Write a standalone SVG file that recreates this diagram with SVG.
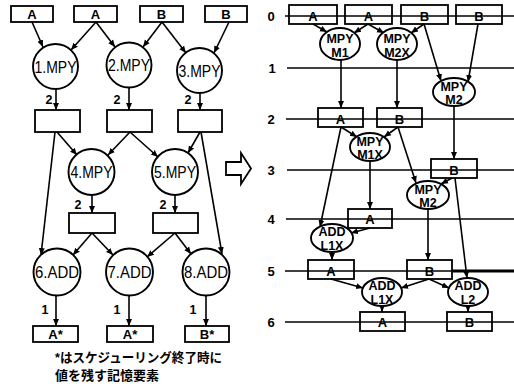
<svg xmlns="http://www.w3.org/2000/svg" width="514" height="384" viewBox="0 0 514 384">
<defs>
<marker id="ah" markerWidth="8" markerHeight="8" refX="7" refY="4" orient="auto" markerUnits="userSpaceOnUse"><path d="M0,1 L7,4 L0,7 Z" fill="#000"/></marker>
<style>
.box{fill:none;stroke:#000;stroke-width:1.8}
.nd{fill:#fff;stroke:#000;stroke-width:1.9}
.c{fill:none;stroke:#000;stroke-width:1.6;marker-end:url(#ah)}
.ln{stroke:#000;stroke-width:1.6}
.t{font-family:"Liberation Sans",Arial,sans-serif;fill:#000;text-anchor:middle}
.bt{font-size:13px;font-weight:bold}
.ct{font-size:16px}
.et{font-size:12.5px;font-weight:bold}
.lb{font-size:12.5px;font-weight:bold}
.jp{font-family:"Liberation Sans","Noto Sans CJK JP",sans-serif;font-size:13px;font-weight:bold;fill:#000}
</style>
</defs>
<rect width="514" height="384" fill="#fff"/>

<!-- LEFT GRAPH connectors -->
<g id="left-connectors">
<line class="c" x1="32" y1="22" x2="43" y2="47"/>
<line class="c" x1="96" y1="22" x2="71" y2="50"/>
<line class="c" x1="96" y1="22" x2="115" y2="47"/>
<line class="c" x1="162" y1="22" x2="143" y2="47"/>
<line class="c" x1="162" y1="22" x2="186" y2="53"/>
<line class="c" x1="229" y1="22" x2="214" y2="53"/>
<line class="c" x1="56" y1="89" x2="56" y2="110"/>
<line class="c" x1="129" y1="88" x2="129" y2="110"/>
<line class="c" x1="200" y1="93" x2="200" y2="110"/>
<line class="c" x1="57" y1="132" x2="77" y2="155"/>
<line class="c" x1="130" y1="132" x2="108" y2="155"/>
<line class="c" x1="130" y1="132" x2="158" y2="157"/>
<line class="c" x1="200" y1="132" x2="188" y2="153"/>
<line class="c" x1="55" y1="132" x2="41" y2="255"/>
<line class="c" x1="201" y1="132" x2="222" y2="254"/>
<line class="c" x1="92" y1="195" x2="92" y2="213"/>
<line class="c" x1="175" y1="195" x2="175" y2="213"/>
<line class="c" x1="92" y1="233" x2="73" y2="255"/>
<line class="c" x1="92" y1="233" x2="113" y2="255"/>
<line class="c" x1="175" y1="233" x2="147" y2="257"/>
<line class="c" x1="175" y1="233" x2="191" y2="254"/>
<line class="c" x1="56" y1="296" x2="56" y2="326"/>
<line class="c" x1="129" y1="296" x2="129" y2="326"/>
<line class="c" x1="206" y1="296" x2="206" y2="326"/>
</g>

<!-- LEFT GRAPH nodes -->
<g id="L-A1"><rect class="box" x="11" y="6" width="42" height="16"/><text class="t bt" x="32" y="18.5">A</text></g>
<g id="L-A2"><rect class="box" x="74" y="6" width="43" height="16"/><text class="t bt" x="95.5" y="18.5">A</text></g>
<g id="L-B3"><rect class="box" x="140" y="6" width="43" height="16"/><text class="t bt" x="161.5" y="18.5">B</text></g>
<g id="L-B4"><rect class="box" x="205" y="6" width="42" height="16"/><text class="t bt" x="226" y="18.5">B</text></g>

<g id="L-MPY1"><circle class="nd" cx="55.5" cy="66.5" r="22.5"/><text class="t ct" x="55.5" y="72.5" textLength="42" lengthAdjust="spacingAndGlyphs">1.MPY</text></g>
<g id="L-MPY2"><circle class="nd" cx="129" cy="65" r="22.5"/><text class="t ct" x="129" y="71" textLength="42" lengthAdjust="spacingAndGlyphs">2.MPY</text></g>
<g id="L-MPY3"><circle class="nd" cx="199.5" cy="70.5" r="22.5"/><text class="t ct" x="199.5" y="76.5" textLength="42" lengthAdjust="spacingAndGlyphs">3.MPY</text></g>

<g id="L-S1"><rect class="box" x="35" y="110" width="45" height="22"/></g>
<g id="L-S2"><rect class="box" x="107" y="110" width="45" height="22"/></g>
<g id="L-S3"><rect class="box" x="178" y="110" width="44" height="22"/></g>

<g id="L-MPY4"><circle class="nd" cx="91.5" cy="172" r="23"/><text class="t ct" x="91.5" y="178" textLength="42" lengthAdjust="spacingAndGlyphs">4.MPY</text></g>
<g id="L-MPY5"><circle class="nd" cx="175" cy="172" r="23"/><text class="t ct" x="175" y="178" textLength="42" lengthAdjust="spacingAndGlyphs">5.MPY</text></g>

<g id="L-S4"><rect class="box" x="69" y="213" width="46" height="20"/></g>
<g id="L-S5"><rect class="box" x="153" y="213" width="45" height="20"/></g>

<g id="L-ADD6"><circle class="nd" cx="57" cy="272" r="23.5"/><text class="t ct" x="57" y="278" textLength="44" lengthAdjust="spacingAndGlyphs">6.ADD</text></g>
<g id="L-ADD7"><circle class="nd" cx="129.5" cy="272" r="23.5"/><text class="t ct" x="129.5" y="278" textLength="44" lengthAdjust="spacingAndGlyphs">7.ADD</text></g>
<g id="L-ADD8"><circle class="nd" cx="206" cy="272" r="23.5"/><text class="t ct" x="206" y="278" textLength="44" lengthAdjust="spacingAndGlyphs">8.ADD</text></g>

<g id="L-O1"><rect class="box" x="33" y="326" width="45" height="16"/><text class="t bt" x="55.5" y="338.5">A*</text></g>
<g id="L-O2"><rect class="box" x="107" y="326" width="46" height="16"/><text class="t bt" x="130" y="338.5">A*</text></g>
<g id="L-O3"><rect class="box" x="185" y="326" width="44" height="16"/><text class="t bt" x="207" y="338.5">B*</text></g>

<g id="L-labels">
<text class="t lb" x="49" y="104">2</text>
<text class="t lb" x="117" y="104">2</text>
<text class="t lb" x="188" y="104">2</text>
<text class="t lb" x="78" y="209">2</text>
<text class="t lb" x="163" y="209">2</text>
<text class="t lb" x="45" y="314">1</text>
<text class="t lb" x="117" y="314">1</text>
<text class="t lb" x="193" y="314">1</text>
</g>

<g id="note">
<text class="jp" x="55" y="362" textLength="167" lengthAdjust="spacingAndGlyphs">*はスケジューリング終了時に</text>
<text class="jp" x="55" y="380">値を残す記憶要素</text>
</g>

<!-- transform arrow -->
<g id="big-arrow"><path d="M226,162 L241,162 L241,153 L251,168.5 L241,184 L241,175 L226,175 Z" fill="#fff" stroke="#000" stroke-width="1.8"/></g>

<!-- RIGHT: time lines -->
<g id="timelines">
<line class="ln" x1="285" y1="16" x2="514" y2="16"/>
<line class="ln" x1="287" y1="68" x2="514" y2="68"/>
<line class="ln" x1="286" y1="119" x2="514" y2="119"/>
<line class="ln" x1="287" y1="170" x2="514" y2="170"/>
<line class="ln" x1="286" y1="219" x2="514" y2="219"/>
<line class="ln" x1="285" y1="271" x2="514" y2="271"/>
<line stroke="#000" stroke-width="3" x1="452" y1="271" x2="514" y2="271"/>
<line class="ln" x1="285" y1="322" x2="514" y2="322"/>
<text class="t bt" x="271" y="21">0</text>
<text class="t bt" x="272" y="73">1</text>
<text class="t bt" x="271" y="124">2</text>
<text class="t bt" x="271" y="175">3</text>
<text class="t bt" x="271" y="224">4</text>
<text class="t bt" x="271" y="276">5</text>
<text class="t bt" x="271" y="327">6</text>
</g>

<g id="right-connectors">
<line class="c" x1="313" y1="24" x2="327" y2="32"/>
<line class="c" x1="368" y1="24" x2="354" y2="33"/>
<line class="c" x1="368" y1="24" x2="384" y2="33"/>
<line class="c" x1="424" y1="24" x2="411" y2="33"/>
<line class="c" x1="424" y1="24" x2="441" y2="81"/>
<line class="c" x1="478" y1="24" x2="468" y2="82"/>
<line class="c" x1="341" y1="60" x2="341" y2="108"/>
<line class="c" x1="397" y1="60" x2="397" y2="108"/>
<line class="c" x1="454" y1="106" x2="454" y2="159"/>
<line class="c" x1="341" y1="127" x2="357" y2="137"/>
<line class="c" x1="398" y1="127" x2="384" y2="137"/>
<line class="c" x1="341" y1="127" x2="320" y2="227"/>
<line class="c" x1="398" y1="127" x2="416" y2="183"/>
<line class="c" x1="452" y1="178" x2="441" y2="184"/>
<line class="c" x1="455" y1="178" x2="467" y2="278"/>
<line class="c" x1="370" y1="161" x2="370" y2="209"/>
<line class="c" x1="428" y1="209" x2="428" y2="260"/>
<line class="c" x1="370" y1="228" x2="351" y2="233"/>
<line class="c" x1="332" y1="252" x2="332" y2="260"/>
<line class="c" x1="331" y1="279" x2="363" y2="288"/>
<line class="c" x1="429" y1="279" x2="401" y2="288"/>
<line class="c" x1="429" y1="279" x2="449" y2="288"/>
<line class="c" x1="382" y1="306" x2="382" y2="312"/>
<line class="c" x1="468" y1="306" x2="468" y2="312"/>
</g>

<!-- RIGHT nodes -->
<g id="R0-A1"><rect class="box" x="289" y="5" width="48" height="19"/><text class="t bt" x="313" y="20.5">A</text></g>
<g id="R0-A2"><rect class="box" x="345" y="5" width="47" height="19"/><text class="t bt" x="368.5" y="20.5">A</text></g>
<g id="R0-B1"><rect class="box" x="401" y="5" width="47" height="19"/><text class="t bt" x="424.5" y="20.5">B</text></g>
<g id="R0-B2"><rect class="box" x="456" y="5" width="46" height="19"/><text class="t bt" x="479" y="20.5">B</text></g>

<g id="R-M1"><ellipse class="nd" cx="340" cy="44" rx="20" ry="16"/><text class="t et" x="340" y="43">MPY</text><text class="t et" x="340" y="57">M1</text></g>
<g id="R-M2X"><ellipse class="nd" cx="397" cy="44" rx="20" ry="16"/><text class="t et" x="397" y="43">MPY</text><text class="t et" x="397" y="57">M2X</text></g>
<g id="R-M2"><ellipse class="nd" cx="454" cy="92" rx="21" ry="14"/><text class="t et" x="454" y="91">MPY</text><text class="t et" x="454" y="104">M2</text></g>

<g id="R2-A"><rect class="box" x="318" y="108" width="45" height="19"/><text class="t bt" x="340.5" y="123.5">A</text></g>
<g id="R2-B"><rect class="box" x="377" y="108" width="45" height="19"/><text class="t bt" x="399.5" y="123.5">B</text></g>

<g id="R-M1X"><ellipse class="nd" cx="370" cy="147" rx="20" ry="14"/><text class="t et" x="370" y="146">MPY</text><text class="t et" x="370" y="159">M1X</text></g>

<g id="R3-B"><rect class="box" x="431" y="159" width="46" height="19"/><text class="t bt" x="454" y="174.5">B</text></g>

<g id="R-M2b"><ellipse class="nd" cx="428" cy="195" rx="21" ry="14"/><text class="t et" x="428" y="194">MPY</text><text class="t et" x="428" y="207">M2</text></g>

<g id="R4-A"><rect class="box" x="348" y="209" width="44" height="19"/><text class="t bt" x="370" y="223.5">A</text></g>

<g id="R-L1Xa"><ellipse class="nd" cx="332" cy="238" rx="21" ry="14"/><text class="t et" x="332" y="236">ADD</text><text class="t et" x="332" y="250">L1X</text></g>

<g id="R5-A"><rect class="box" x="308" y="260" width="46" height="19"/><text class="t bt" x="331" y="275.5">A</text></g>
<g id="R5-B"><rect class="box" x="407" y="260" width="45" height="19"/><text class="t bt" x="429.5" y="275.5">B</text></g>

<g id="R-L1Xb"><ellipse class="nd" cx="382" cy="292" rx="20" ry="14"/><text class="t et" x="382" y="290">ADD</text><text class="t et" x="382" y="304">L1X</text></g>
<g id="R-L2"><ellipse class="nd" cx="468" cy="292" rx="20" ry="14"/><text class="t et" x="468" y="290">ADD</text><text class="t et" x="468" y="304">L2</text></g>

<g id="R6-A"><rect class="box" x="360" y="312" width="45" height="19"/><text class="t bt" x="382.5" y="326.5">A</text></g>
<g id="R6-B"><rect class="box" x="447" y="312" width="45" height="19"/><text class="t bt" x="469.5" y="326.5">B</text></g>
</svg>
